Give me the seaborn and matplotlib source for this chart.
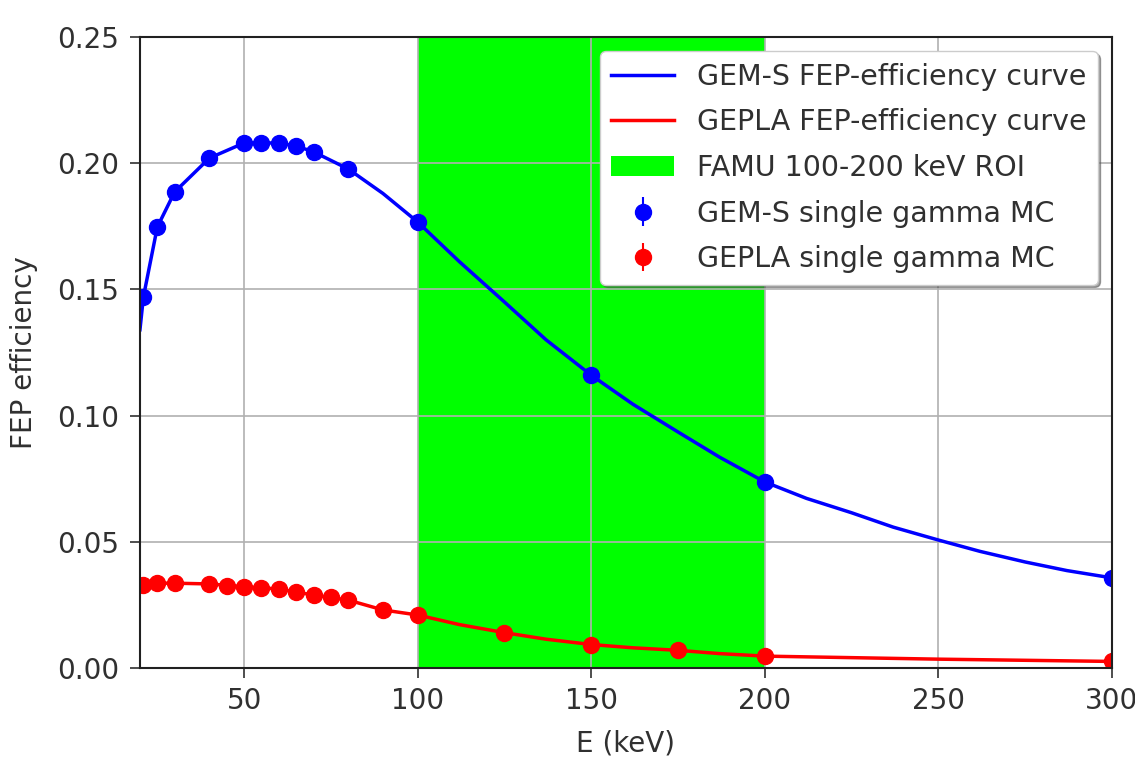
import numpy as np
import pandas as pd
import seaborn as sns
from matplotlib import pyplot as plt

# MC points
gems_E = [21, 25, 30, 40, 50, 55, 60, 65, 70, 80, 100, 150, 200, 300]
gems_eff = [0.147, 0.1747, 0.1886, 0.202, 0.208, 0.208, 0.208, 0.2068, 0.2045,
            0.1977, 0.1767, 0.116, 0.0737, 0.0357]
gems_err = [0.002] * len(gems_E)

gepla_E = [21, 25, 30, 40, 45, 50, 55, 60, 65, 70, 75, 80, 90, 100,
           125, 150, 175, 200, 300]
gepla_eff = [0.0329, 0.0336, 0.0336, 0.0333, 0.0325, 0.0322, 0.0315, 0.0313,
             0.0302, 0.0289, 0.0283, 0.0269, 0.0230, 0.0210,
             0.0140, 0.0093, 0.0070, 0.0047, 0.0026]
gepla_err = [0.001] * len(gepla_E)

# efficiency curves
curve_gems_E = [20, 21, 25, 30, 40, 50, 55, 60, 65, 70, 80, 90, 100, 112, 125,
                137, 150, 162, 175, 187, 200, 212, 225, 237, 250, 262, 275,
                287, 300]
curve_gems = [0.134, 0.147, 0.1747, 0.1886, 0.202, 0.208, 0.208, 0.208, 0.2068,
              0.2045, 0.1977, 0.188, 0.1767, 0.161, 0.145, 0.130, 0.116,
              0.1045, 0.0935, 0.0835, 0.0737, 0.0672, 0.0615, 0.0558, 0.0507,
              0.0462, 0.0420, 0.0386, 0.0357]
curve_gepla_E = [20, 25, 30, 40, 50, 60, 70, 80, 90, 100, 112, 125, 137, 150,
                 162, 175, 187, 200, 250, 300]
curve_gepla = [0.0329, 0.0336, 0.0336, 0.0333, 0.0322, 0.0313, 0.0289, 0.0269,
               0.0230, 0.0210, 0.0172, 0.0140, 0.0114, 0.0093, 0.0080, 0.0070,
               0.0057, 0.0047, 0.0035, 0.0026]

roi = [100, 200]

txt = '#303030'
plt.rcParams['font.size'] = 20
plt.rcParams['text.color'] = txt
plt.rcParams['axes.labelcolor'] = txt
plt.rcParams['xtick.color'] = txt
plt.rcParams['ytick.color'] = txt

fig = plt.figure(figsize=(11.35, 7.59), dpi=100)
ax = fig.add_axes([0.1233, 0.1199, 0.8564, 0.8314])

df_gems = pd.DataFrame({'E': curve_gems_E, 'eff': curve_gems})
df_gepla = pd.DataFrame({'E': curve_gepla_E, 'eff': curve_gepla})

sns.lineplot(data=df_gems, x='E', y='eff', color='b', lw=2.5,
             label='GEM-S FEP-efficiency curve', ax=ax)
sns.lineplot(data=df_gepla, x='E', y='eff', color='r', lw=2.5,
             label='GEPLA FEP-efficiency curve', ax=ax)
ax.axvspan(roi[0], roi[1], color='#00ff00', lw=0, label='FAMU 100-200 keV ROI')
ax.errorbar(gems_E, gems_eff, yerr=gems_err, fmt='o', color='b', ms=11.5,
            label='GEM-S single gamma MC')
ax.errorbar(gepla_E, gepla_eff, yerr=gepla_err, fmt='o', color='r', ms=11.5,
            label='GEPLA single gamma MC')

ax.set_xlim(20, 300)
ax.set_ylim(0, 0.25)
ax.set_xticks([50, 100, 150, 200, 250, 300])
ax.set_yticks([0.0, 0.05, 0.10, 0.15, 0.20, 0.25])
ax.grid(True, color='#b0b0b0', lw=1.2)
ax.set_xlabel('E (keV)', labelpad=10)
ax.set_ylabel('FEP efficiency', labelpad=14)
ax.tick_params(axis='y', length=7, width=1.2, pad=8)
ax.tick_params(axis='x', length=7, width=1.2, pad=7)
for s in ax.spines.values():
    s.set_linewidth(1.5)
    s.set_color('#202020')

ax.legend(loc='upper right', shadow=True, fontsize=20.5, borderaxespad=0.5,
          handlelength=2.2, handletextpad=0.8, labelspacing=0.62)

plt.savefig('out.png', dpi=100)
